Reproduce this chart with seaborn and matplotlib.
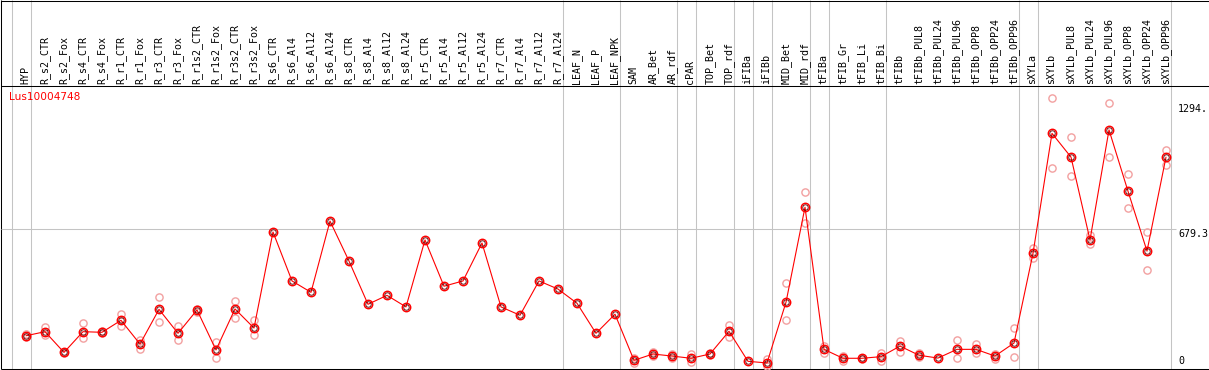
import numpy as np
import pandas as pd
import matplotlib
matplotlib.use("Agg")
import matplotlib.pyplot as plt
import matplotlib.transforms as mtransforms
import seaborn as sns

# ---------------- data ----------------
title = "Lus10004748"
samples = [
    "HYP", "R_s2_CTR", "R_s2_Fox", "R_s4_CTR", "R_s4_Fox", "R_r1_CTR", "R_r1_Fox",
    "R_r3_CTR", "R_r3_Fox", "R_r1s2_CTR", "R_r1s2_Fox", "R_r3s2_CTR", "R_r3s2_Fox",
    "R_s6_CTR", "R_s6_Al4", "R_s6_Al12", "R_s6_Al24", "R_s8_CTR", "R_s8_Al4",
    "R_s8_Al12", "R_s8_Al24", "R_r5_CTR", "R_r5_Al4", "R_r5_Al12", "R_r5_Al24",
    "R_r7_CTR", "R_r7_Al4", "R_r7_Al12", "R_r7_Al24", "LEAF_N", "LEAF_P", "LEAF_NPK",
    "SAM", "AR_Bet", "AR_rdf", "cPAR", "TOP_Bet", "TOP_rdf", "iFIBa", "iFIBb",
    "MID_Bet", "MID_rdf", "tFIBa", "tFIB_Gr", "tFIB_Li", "tFIB_Bi", "tFIBb",
    "tFIBb_PUL8", "tFIBb_PUL24", "tFIBb_PUL96", "tFIBb_OPP8", "tFIBb_OPP24",
    "tFIBb_OPP96", "sXYLa", "sXYLb", "sXYLb_PUL8", "sXYLb_PUL24", "sXYLb_PUL96",
    "sXYLb_OPP8", "sXYLb_OPP24", "sXYLb_OPP96",
]
mean_values = [
    151, 171, 69, 171, 168, 227, 110, 281, 163, 278, 81, 283, 189,
    662, 421, 365, 716, 519, 306, 350, 293, 623, 395, 421, 608,
    293, 252, 421, 381, 311, 163, 257,
    30, 61, 51, 40, 61, 173, 25, 17,
    316, 784, 84, 40, 40, 48, 100,
    55, 41, 84, 84, 51, 115,
    557, 1148, 1031, 623, 1165, 863, 568, 1031,
]
nan = np.nan
rep1_values = [
    160, 193, 73, 212, 176, 257, 130, 340, 199, 283, 119, 322, 229,
    nan, nan, nan, nan, nan, nan, nan, nan, nan, nan, nan, nan,
    nan, nan, nan, nan, nan, nan, nan,
    40, 72, 60, 60, 66, 204, nan, 35,
    409, 861, 100, 51, 42, 67, 125,
    64, nan, 130, 109, 61, 191,
    582, 1321, 1129, 647, 1296, 946, 661, 1065,
]
rep2_values = [
    145, 155, 66, 138, 163, 200, 87, 217, 129, 267, 40, 237, 153,
    nan, nan, nan, nan, nan, nan, nan, nan, nan, nan, nan, nan,
    nan, nan, nan, nan, nan, nan, nan,
    15, 51, 43, 23, 56, 146, nan, 2,
    229, 705, 67, 27, 38, 28, 72,
    46, nan, 40, 67, 38, 45,
    535, 976, 938, 601, 1030, 779, 473, 992,
]
# group separators are drawn after these sample positions
separator_after = [-1, 0, 28, 31, 34, 35, 37, 38, 39, 41, 42, 45, 52, 53, 60]
ref_values = [1294, 679.3, 0]
ref_labels = ["1294.", "679.3", "0"]
gridline_value = 679.3

# ---------------- layout ----------------
W, H = 1209, 370
X0, DX = 26.0, 19.0          # pixel x of first sample, spacing
PLOT_TOP, PLOT_BOT = 85, 369
Y0PX, SCALE = 366.4, 0.2030  # pixel of value 0, pixels per unit

def px2i(px):
    return (px - X0) / DX

sns.set_theme(style="white")
plt.rcParams["font.family"] = ["DejaVu Sans"]

fig = plt.figure(figsize=(W / 100, H / 100), dpi=100)
fig.patch.set_facecolor("white")

# background overlay axes in pixel-like coordinates
bg = fig.add_axes([0, 0, 1, 1])
bg.set_xlim(px2i(0), px2i(W))
bg.set_ylim(H, 0)
bg.axis("off")

sep_x = [s + 4.6 / DX for s in separator_after]
bg.vlines(sep_x, 0, PLOT_BOT, color="#c4c4c4", lw=0.75, zorder=1)

black = "#000000"
lw1 = 0.75
bg.hlines([0.5, PLOT_TOP + 0.5, PLOT_BOT + 0.3], px2i(1), px2i(W), color=black, lw=lw1, zorder=3)
bg.vlines([px2i(1.5)], 0, PLOT_BOT, color=black, lw=lw1, zorder=3)

for i, lab in enumerate(samples):
    bg.text(i + 2.5 / DX, PLOT_TOP - 1.5, lab, rotation=90, rotation_mode="anchor",
            ha="left", va="baseline", fontsize=7.2, family="DejaVu Sans Mono",
            color="black")

bg.text(px2i(9), 97.5, title, color="#ff0000", fontsize=7.6, va="center", ha="left")

# main data axes
ax = fig.add_axes([1 / W, (H - PLOT_BOT) / H, (W - 1) / W, (PLOT_BOT - PLOT_TOP) / H])
ax.patch.set_alpha(0)
ax.set_xlim(px2i(1), px2i(W))
ax.set_ylim((Y0PX - PLOT_BOT) / SCALE, (Y0PX - PLOT_TOP) / SCALE)
for sp in ax.spines.values():
    sp.set_visible(False)
ax.set_xticks([])
ax.set_yticks([])

ax.hlines(gridline_value, px2i(1), px2i(1176), color="#c4c4c4", lw=0.75, zorder=1)

idx = np.arange(len(samples))
df = pd.DataFrame({"i": idx, "mean": mean_values, "r1": rep1_values, "r2": rep2_values})

for col in ["r1", "r2"]:
    sub = df.dropna(subset=[col])
    sns.lineplot(data=sub, x="i", y=col, ax=ax, linestyle="none", marker="o",
                 markersize=5.2, markerfacecolor="none", markeredgecolor="#f2a0a0",
                 markeredgewidth=1.0, estimator=None, zorder=2)

sns.lineplot(data=df, x="i", y="mean", ax=ax, color="#ff0000", lw=0.8,
             marker="o", markersize=6.0, markerfacecolor="none",
             markeredgecolor="#ff0000", markeredgewidth=1.1, estimator=None, zorder=4)
sns.lineplot(data=df, x="i", y="mean", ax=ax, linestyle="none",
             marker="o", markersize=3.9, markerfacecolor="none",
             markeredgecolor="#5a0000", markeredgewidth=0.6, estimator=None, zorder=5)
ax.set_xlabel("")
ax.set_ylabel("")
ax.set_xlim(px2i(1), px2i(W))
ax.set_ylim((Y0PX - PLOT_BOT) / SCALE, (Y0PX - PLOT_TOP) / SCALE)

trans = mtransforms.blended_transform_factory(ax.transAxes, ax.transData)
xfrac = (1178 - 1) / (W - 1)
for v, s in zip(ref_values, ref_labels):
    va = "bottom" if v == 0 else "top"
    ax.text(xfrac, v, s, transform=trans, ha="left", va=va, fontsize=7.2,
            family="DejaVu Sans Mono", color="black")

fig.savefig("out.png", dpi=100, facecolor="white")
